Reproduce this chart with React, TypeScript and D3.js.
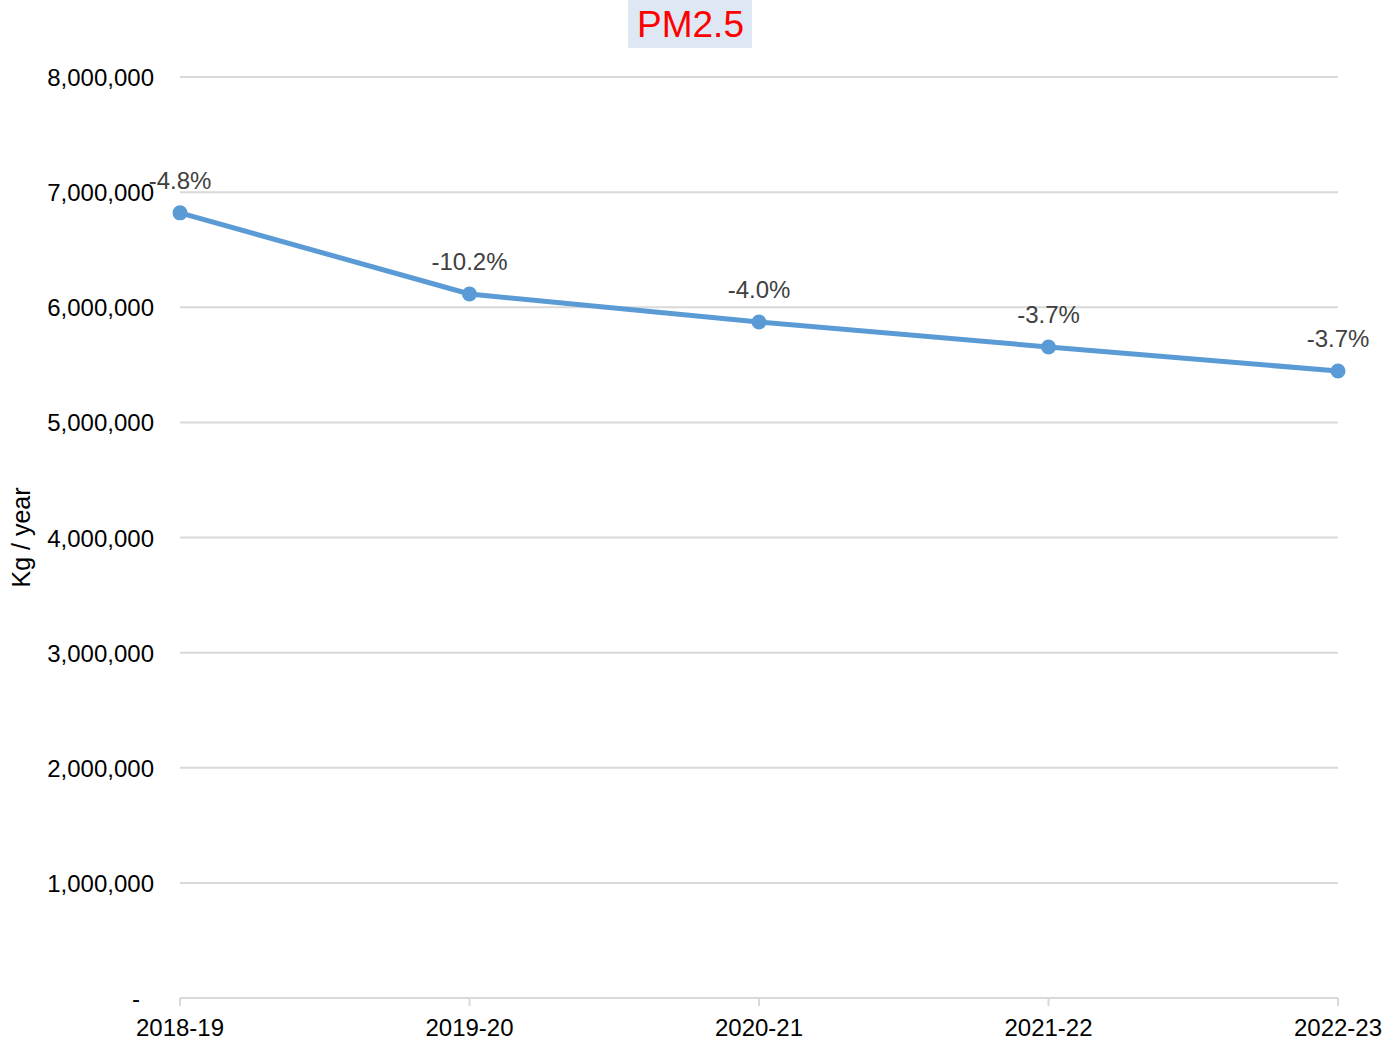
import React, { useEffect, useRef } from 'react';
import * as d3 from 'd3';

const categorias = ['2018-19', '2019-20', '2020-21', '2021-22', '2022-23'];
const valores = [6820000, 6115000, 5872000, 5655000, 5446000];
const rotulos = ['-4.8%', '-10.2%', '-4.0%', '-3.7%', '-3.7%'];
const ticksY = [0, 1000000, 2000000, 3000000, 4000000, 5000000, 6000000, 7000000, 8000000];

export default function App() {
  const ref = useRef<SVGSVGElement>(null);

  useEffect(() => {
    const largura = 1383;
    const altura = 1043;
    const fonte = 'Liberation Sans, Arial, sans-serif';

    const svg = d3.select(ref.current);
    svg.selectAll('*').remove();

    const x = d3.scalePoint<string>().domain(categorias).range([180, 1338]);
    const y = d3.scaleLinear().domain([0, 8000000]).range([998, 77]);

    // grelha
    svg.append('g')
      .selectAll('line')
      .data(ticksY.filter(d => d > 0))
      .enter()
      .append('line')
      .attr('x1', 180)
      .attr('x2', 1338)
      .attr('y1', d => y(d))
      .attr('y2', d => y(d))
      .attr('stroke', '#d9d9d9')
      .attr('stroke-width', 2);

    // eixo x
    svg.append('line')
      .attr('x1', 180).attr('x2', 1338)
      .attr('y1', y(0)).attr('y2', y(0))
      .attr('stroke', '#d9d9d9').attr('stroke-width', 2);

    svg.append('g')
      .selectAll('line')
      .data(categorias)
      .enter()
      .append('line')
      .attr('x1', d => x(d)!)
      .attr('x2', d => x(d)!)
      .attr('y1', y(0))
      .attr('y2', y(0) + 8)
      .attr('stroke', '#d9d9d9')
      .attr('stroke-width', 2);

    svg.append('g')
      .selectAll('text')
      .data(categorias)
      .enter()
      .append('text')
      .attr('x', d => x(d)!)
      .attr('y', 1036)
      .attr('text-anchor', 'middle')
      .attr('fill', '#000')
      .style('font-family', fonte)
      .style('font-size', '24px')
      .text(d => d);

    // rótulos eixo y
    const fmt = d3.format(',');
    svg.append('g')
      .selectAll('text')
      .data(ticksY)
      .enter()
      .append('text')
      .attr('x', d => (d === 0 ? 140 : 154))
      .attr('y', d => y(d) + 9)
      .attr('text-anchor', 'end')
      .attr('fill', '#000')
      .style('font-family', fonte)
      .style('font-size', '24px')
      .text(d => (d === 0 ? '-' : fmt(d)));

    svg.append('text')
      .attr('transform', `translate(30, ${(y(0) + y(8000000)) / 2}) rotate(-90)`)
      .attr('text-anchor', 'middle')
      .attr('fill', '#000')
      .style('font-family', fonte)
      .style('font-size', '25px')
      .text('Kg / year');

    // linha
    const linha = d3.line<number>()
      .x((d, i) => x(categorias[i])!)
      .y(d => y(d));

    svg.append('path')
      .datum(valores)
      .attr('d', linha)
      .attr('fill', 'none')
      .attr('stroke', '#5b9bd5')
      .attr('stroke-width', 5)
      .attr('stroke-linejoin', 'round');

    svg.append('g')
      .selectAll('circle')
      .data(valores)
      .enter()
      .append('circle')
      .attr('cx', (d, i) => x(categorias[i])!)
      .attr('cy', d => y(d))
      .attr('r', 7.5)
      .attr('fill', '#5b9bd5');

    svg.append('g')
      .selectAll('text')
      .data(valores)
      .enter()
      .append('text')
      .attr('x', (d, i) => x(categorias[i])!)
      .attr('y', d => y(d) - 24)
      .attr('text-anchor', 'middle')
      .attr('fill', '#404040')
      .style('font-family', fonte)
      .style('font-size', '24px')
      .text((d, i) => rotulos[i]);

    // título
    svg.append('rect')
      .attr('x', 628).attr('y', 0)
      .attr('width', 124).attr('height', 48)
      .attr('fill', '#dde8f4');

    svg.append('text')
      .attr('x', largura / 2 - 1)
      .attr('y', 37)
      .attr('text-anchor', 'middle')
      .attr('fill', '#ff0000')
      .style('font-family', fonte)
      .style('font-size', '37px')
      .text('PM2.5');

    svg.attr('width', largura).attr('height', altura);
  }, []);

  return (
    <svg
      ref={ref}
      width={1383}
      height={1043}
      style={{ position: 'absolute', left: 0, top: 0, background: '#fff' }}
    />
  );
}
